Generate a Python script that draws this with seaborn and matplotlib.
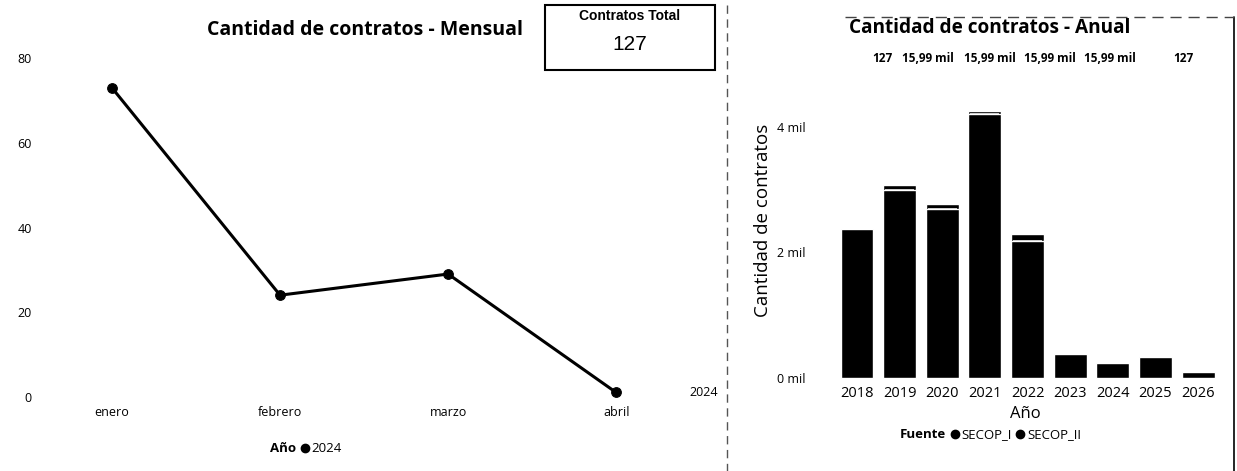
import matplotlib
matplotlib.use("Agg")
import matplotlib.pyplot as plt
from matplotlib.lines import Line2D
from matplotlib.patches import Rectangle
import seaborn as sns

# datos
meses = ["enero", "febrero", "marzo", "abril"]
contratos_mes = [73, 24, 29, 1]
serie_mes = "2024"

anios = ["2018", "2019", "2020", "2021", "2022", "2023", "2024", "2025", "2026"]
secop_ii = [2370, 3000, 2700, 4210, 2190, 390, 245, 330, 100]
secop_i = [0, 70, 65, 50, 110, 0, 0, 0, 0]
etiquetas_sup = ["127", "15,99 mil", "15,99 mil", "15,99 mil", "15,99 mil", "127"]
total_contratos = "127"

W, H = 1237, 471
def fx(px):
    return px / W
def fy(py):
    return 1 - py / H

sns.set_theme(style="white")
plt.rcParams['font.family'] = ['Open Sans', 'DejaVu Sans']
plt.rcParams['text.color'] = 'black'
plt.rcParams['xtick.color'] = 'black'
plt.rcParams['ytick.color'] = 'black'
plt.rcParams['axes.labelcolor'] = 'black'

fig = plt.figure(figsize=(W / 100, H / 100), dpi=100)

# ---- mensual
ax = fig.add_axes([fx(40), fy(402), fx(680) - fx(40), (402 - 50) / H])
sns.lineplot(x=meses, y=contratos_mes, ax=ax, color="black", marker="o",
             markersize=7, linewidth=2.2, markeredgecolor="black", sort=False)
ax.set_xlim(-0.4286, 3.38)
ax.set_ylim(-1.25, 81.96)
ax.set_yticks([0, 20, 40, 60, 80])
ax.tick_params(axis="y", labelsize=9, pad=6, length=0)
ax.tick_params(axis="x", labelsize=9, pad=3, length=0)
sns.despine(ax=ax, left=True, bottom=True)
ax.set_xlabel("")
ax.set_ylabel("")
ax.annotate(serie_mes, xy=(3, contratos_mes[-1]), xytext=(53, 0),
            textcoords="offset points", va="center", ha="left", fontsize=9)
fig.text(fx(365), fy(30), "Cantidad de contratos - Mensual", ha="center",
         va="center", fontsize=14, fontweight="bold")

h_mes = [Line2D([], [], ls="none", label="Año"),
         Line2D([], [], ls="none", marker="o", color="black", ms=6, label=serie_mes)]
leg = fig.legend(handles=h_mes, loc="center", bbox_to_anchor=(fx(300), fy(449)),
                 ncol=2, frameon=False, fontsize=9.5, handlelength=0.7,
                 handletextpad=0.15, columnspacing=0.3)
leg.get_texts()[0].set_fontweight("bold")

# tarjeta total
fig.add_artist(Rectangle((fx(545), fy(70)), fx(715) - fx(545), (70 - 5) / H,
                         transform=fig.transFigure, fill=False, edgecolor="black", lw=1.5))
fig.text(fx(630), fy(16), "Contratos Total", ha="center", va="center",
         fontsize=10, fontweight="bold", family="Liberation Sans")
fig.text(fx(630), fy(45), total_contratos, ha="center", va="center",
         fontsize=15, family="Liberation Sans")

# separador
fig.add_artist(Line2D([fx(727), fx(727)], [fy(5), fy(471)], transform=fig.transFigure,
                      color="#555555", lw=1, ls=(0, (6, 4))))

# ---- anual
ax2 = fig.add_axes([fx(825), fy(380), fx(1225) - fx(825), (380 - 95) / H])
totales = [a + b for a, b in zip(secop_ii, secop_i)]
sns.barplot(x=anios, y=totales, ax=ax2, color="black", saturation=1, width=0.77)
sns.barplot(x=anios, y=secop_ii, ax=ax2, color="black", saturation=1, width=0.77)
for p, extra in zip(ax2.patches[len(anios):], secop_i):
    if extra > 0:
        ax2.hlines(p.get_height(), p.get_x() + 2 / 42.6, p.get_x() + p.get_width() - 2 / 42.6,
                   color="white", lw=1.1)
ax2.set_xlim(-0.75, 8.63)
ax2.set_ylim(-32, 4510)
ax2.set_yticks([0, 2000, 4000])
ax2.set_yticklabels(["0 mil", "2 mil", "4 mil"])
ax2.tick_params(axis="y", labelsize=9, pad=14, length=0)
ax2.tick_params(axis="x", labelsize=10.5, pad=4, length=0)
sns.despine(ax=ax2, left=True, bottom=True)
ax2.set_xlabel("Año", fontsize=12, labelpad=4)
ax2.set_ylabel("")
fig.text(fx(763), fy(220), "Cantidad de contratos", rotation=90, ha="center",
         va="center", fontsize=13.5)
fig.text(fx(990), fy(28), "Cantidad de contratos - Anual", ha="center",
         va="center", fontsize=13.7, fontweight="bold")
for xp, t in zip([882, 928, 990, 1050, 1110, 1183], etiquetas_sup):
    fig.text(fx(xp), fy(58), t, ha="center", va="center", fontsize=8.5, fontweight="bold")

h_anual = [Line2D([], [], ls="none", label="Fuente"),
           Line2D([], [], ls="none", marker="o", color="black", ms=6, label="SECOP_I"),
           Line2D([], [], ls="none", marker="o", color="black", ms=6, label="SECOP_II")]
leg2 = fig.legend(handles=h_anual, loc="center", bbox_to_anchor=(fx(985), fy(435)),
                  ncol=3, frameon=False, fontsize=9.5, handlelength=0.7,
                  handletextpad=0.15, columnspacing=0.3)
leg2.get_texts()[0].set_fontweight("bold")

# marco derecho
fig.add_artist(Line2D([fx(1234), fx(1234)], [fy(17), fy(471)], transform=fig.transFigure,
                      color="black", lw=1.2))
fig.add_artist(Line2D([fx(845), fx(1234)], [fy(17), fy(17)], transform=fig.transFigure,
                      color="#444444", lw=1, ls=(0, (8, 5))))

fig.savefig("out.png", dpi=100)
